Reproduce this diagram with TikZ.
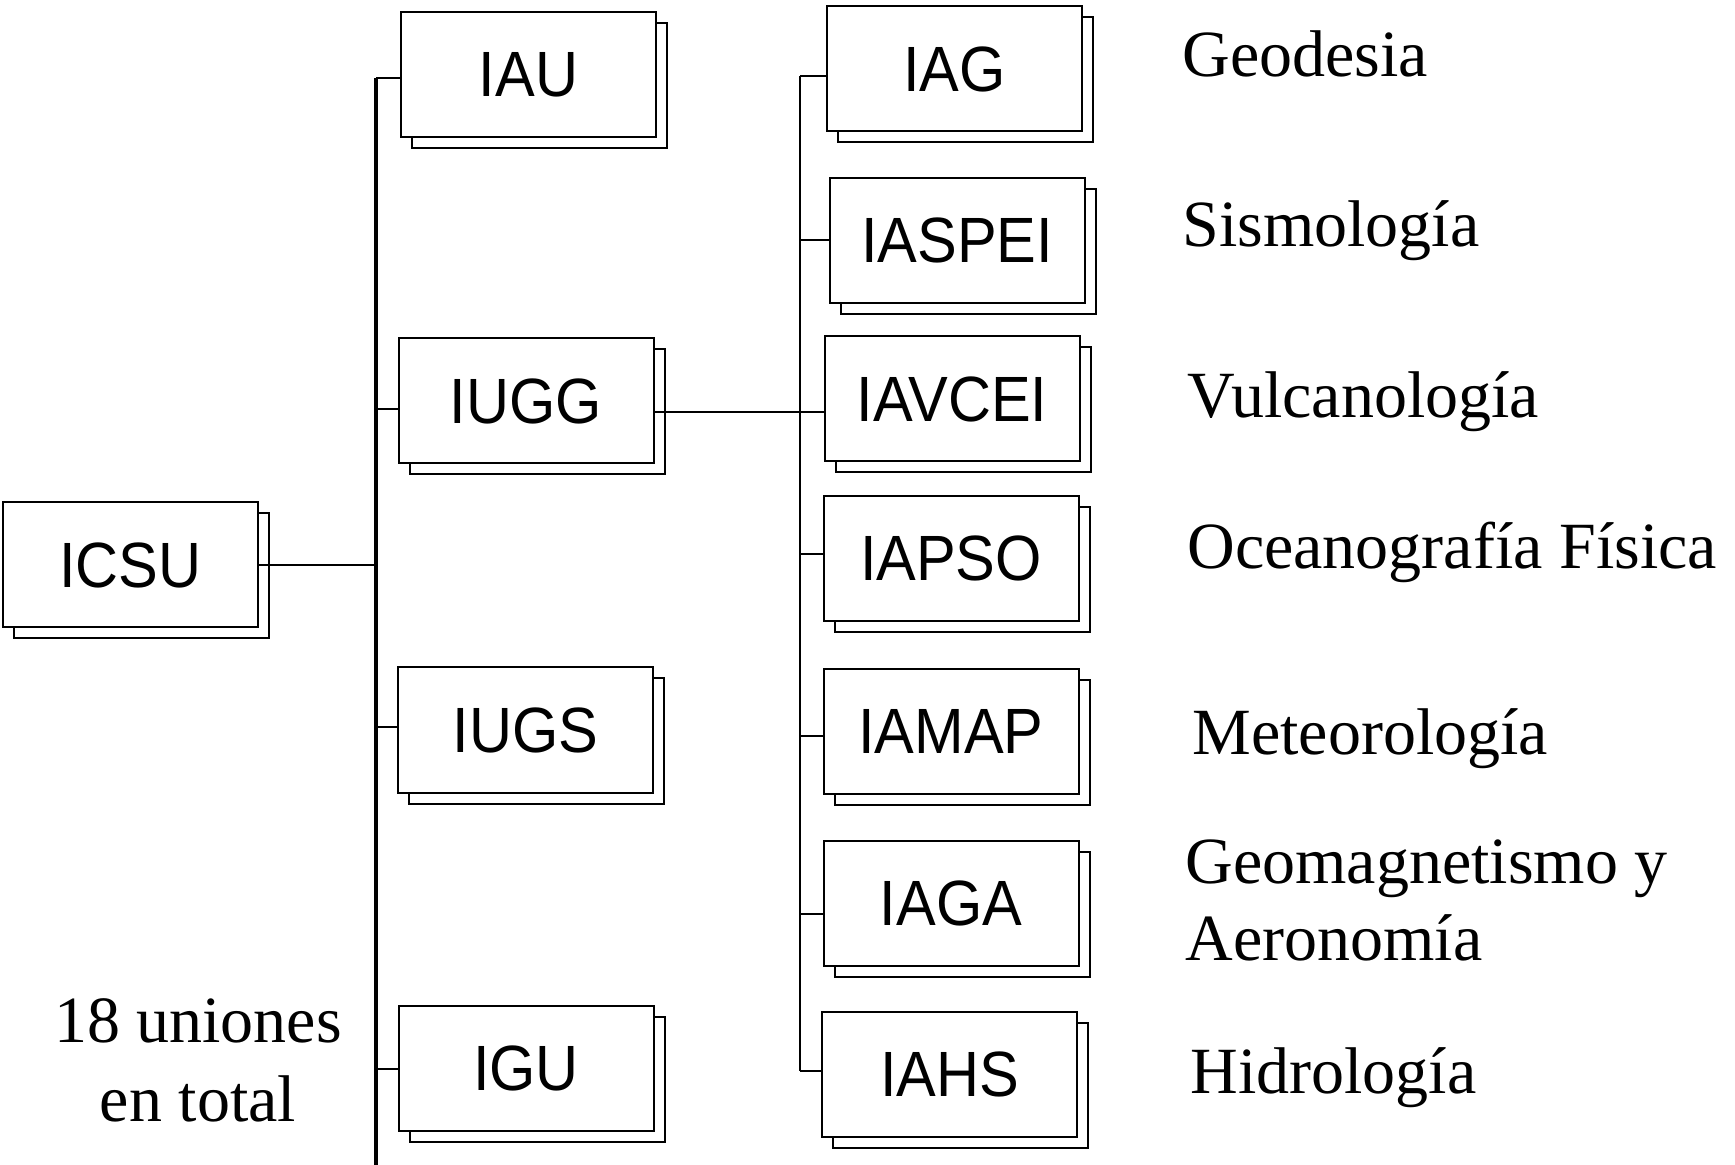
\documentclass[tikz,border=0pt]{standalone}
\usepackage{fontspec}
\setmainfont{Liberation Serif}
\newfontfamily\boxfont[FakeStretch=0.93]{Liberation Sans}
\usetikzlibrary{shadows}
\begin{document}
\begin{tikzpicture}[x=0.5pt,y=-0.5pt,
  unionbox/.style={draw=black, fill=white, line width=1pt, inner sep=0pt,
    minimum width=127.5pt, minimum height=62.5pt,
    font=\boxfont\fontsize{32}{38}\selectfont,
    general shadow={shadow xshift=5.5pt, shadow yshift=-5.5pt, draw=black, fill=white, line width=1pt}},
  lbl/.style={anchor=base west, inner sep=0pt, font=\fontsize{33}{40}\selectfont},
  vline/.style={line width=1.6pt},
  vline2/.style={line width=1.3pt},
  conn/.style={line width=1pt}]
\useasboundingbox (0,0) rectangle (1735,1165);
\fill[white] (0,0) rectangle (1735,1165);

% boxes
\node[unionbox] (ICSU) at (130.5,565) {ICSU};
\node[unionbox] (IAU) at (528.5,74.5) {IAU};
\node[unionbox] (IUGG) at (526,401) {IUGG};
\node[unionbox] (IUGS) at (525.5,730) {IUGS};
\node[unionbox] (IGU) at (526,1068.5) {IGU};

\node[unionbox] (IAG) at (954.5,69) {IAG};
\node[unionbox] (IASPEI) at (957,240.5) {IASPEI};
\node[unionbox] (IAVCEI) at (952,399) {IAVCEI};
\node[unionbox] (IAPSO) at (951,558.5) {IAPSO};
\node[unionbox] (IAMAP) at (951,731.5) {IAMAP};
\node[unionbox] (IAGA) at (951,903) {IAGA};
\node[unionbox] (IAHS) at (949.5,1074) {IAHS};

% main vertical line
\coordinate (mtop) at (376,78);
\coordinate (mbot) at (376,1165);
\draw[vline] (mtop) -- (mbot);
\draw[conn] (ICSU.east) -- (ICSU.east -| mtop);
\draw[conn] (mtop) -- (mtop -| IAU.west);
\draw[conn] ([yshift=-4pt]IUGG.west) -- ([yshift=-4pt]IUGG.west -| mtop);
\draw[conn] ([yshift=1.5pt]IUGS.west) -- ([yshift=1.5pt]IUGS.west -| mtop);
\draw[conn] (IGU.west) -- (IGU.west -| mtop);

% second vertical line
\coordinate (stop) at (800,76);
\coordinate (sbot) at (800,1071);
\draw[vline2] (stop) -- (sbot);
\draw[conn] (stop) -- (stop -| IAG.west);
\draw[conn] (IASPEI.west) -- (IASPEI.west -| stop);
\draw[conn] ([yshift=-6.5pt]IAVCEI.west) -- ([yshift=-6.5pt]IAVCEI.west -| IUGG.east);
\draw[conn] ([yshift=2pt]IAPSO.west) -- ([yshift=2pt]IAPSO.west -| stop);
\draw[conn] ([yshift=-2pt]IAMAP.west) -- ([yshift=-2pt]IAMAP.west -| stop);
\draw[conn] ([yshift=-5.5pt]IAGA.west) -- ([yshift=-5.5pt]IAGA.west -| stop);
\draw[conn] (sbot) -- (sbot -| IAHS.west);

% labels
\node[lbl] (lGeo) at (1182,77) {Geodesia};
\node[lbl] (lSis) at (1182,247) {Sismología};
\node[lbl] (lVul) at (1187,418) {Vulcanología};
\node[lbl] (lOce) at (1187,569) {Oceanografía Física};
\node[lbl] (lMet) at (1192,754) {Meteorología};
\node[lbl] (lGeom) at (1185,883) {Geomagnetismo y};
\node[lbl] (lAer) at (1185,960) {Aeronomía};
\node[lbl] (lHid) at (1190,1093) {Hidrología};

\node[anchor=base, inner sep=0pt, font=\fontsize{33}{40}\selectfont] (u1) at (198,1042) {18 uniones};
\node[anchor=base, inner sep=0pt, font=\fontsize{33}{40}\selectfont] (u2) at (198,1121) {en total};
\end{tikzpicture}
\end{document}
